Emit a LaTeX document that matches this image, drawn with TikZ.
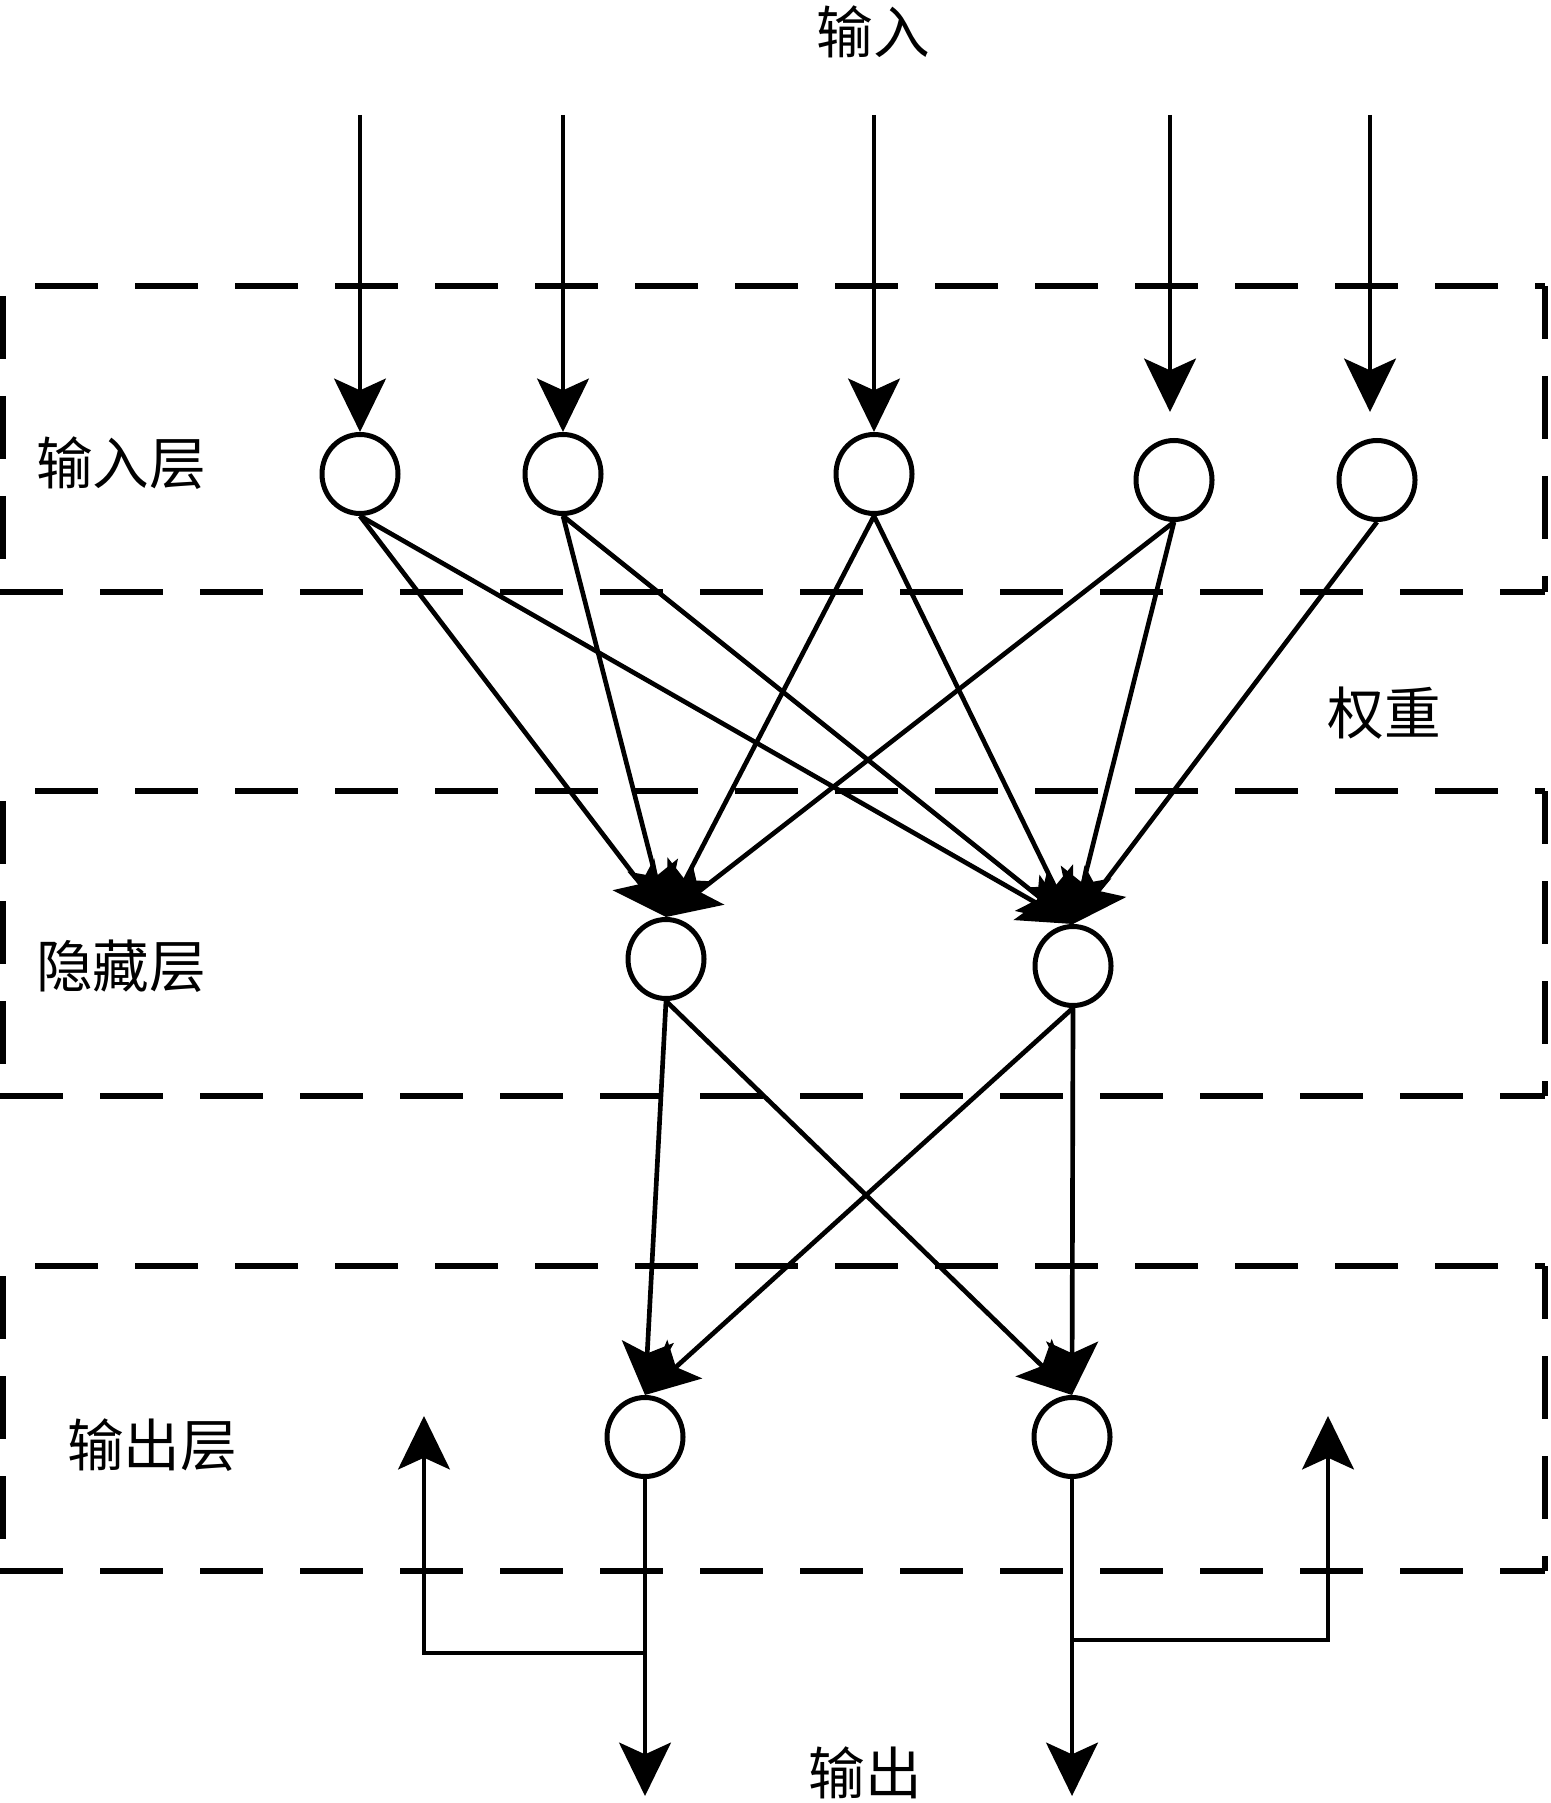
\documentclass[tikz,border=0pt]{standalone}
\usepackage{fontspec}
\newfontfamily\cjk{Noto Sans CJK SC}
\usetikzlibrary{arrows.meta,shapes.geometric}
\begin{document}
\begin{tikzpicture}[x=0.3pt,y=-0.3pt,
  neuron/.style={ellipse,draw,line width=1.5pt,minimum width=22.8pt,minimum height=23.7pt,inner sep=0pt},
  conn/.style={line width=1.4pt,-{Stealth[length=16pt,width=15.5pt,inset=3.5pt]}},
  wire/.style={line width=1.4pt},
  layer/.style={line width=1.7pt,dash pattern=on 18.9pt off 11.1pt},
  lbl/.style={font=\cjk\fontsize{17}{20}\selectfont,inner sep=0pt}]
\useasboundingbox (0,0) rectangle (1550,1803);

% layer boxes
\foreach \t/\b in {286/592, 791/1096, 1266/1571}{
  \draw[layer,dash phase=20.4pt] (3,\t) -- (1545,\t);
  \draw[layer] (0,\b) -- (1545,\b);
  \draw[layer,dash phase=27pt] (3,\t) -- (3,\b);
  \draw[layer,dash phase=3pt] (1545,\t) -- (1545,\b);
}

% labels
\node[lbl] (tin) at (873,32) {输入};
\node[lbl] (tinl) at (121,463) {输入层};
\node[lbl] (thid) at (121,966) {隐藏层};
\node[lbl] (tout) at (152,1445) {输出层};
\node[lbl] (tw) at (1384,713) {权重};
\node[lbl] (tob) at (865,1773) {输出};

% neurons
\node[neuron] (in1) at (360,474) {};
\node[neuron] (in2) at (563,474) {};
\node[neuron] (in3) at (874,474) {};
\node[neuron] (in4) at (1174,480) {};
\node[neuron] (in5) at (1377,480) {};
\node[neuron] (hid1) at (666,959) {};
\node[neuron] (hid2) at (1073,966) {};
\node[neuron] (out1) at (645,1437) {};
\node[neuron] (out2) at (1072,1437) {};

% input arrows
\coordinate (s1) at (360,115);
\coordinate (s2) at (563,115);
\coordinate (s3) at (874,115);
\coordinate (s4) at (1170,115);
\coordinate (s5) at (1370,115);
\coordinate (e4) at (1170,412);
\coordinate (e5) at (1370,412);
\draw[conn] (s1) -- (in1.north);
\draw[conn] (s2) -- (in2.north);
\draw[conn] (s3) -- (in3.north);
\draw[conn] (s4) -- (e4);
\draw[conn] (s5) -- (e5);

% input -> hidden
\foreach \i in {1,2,3,4}{
  \draw[conn] (in\i.south) -- (hid1.north);
}
\foreach \i in {1,2,3,4,5}{
  \draw[conn] (in\i.south) -- (hid2.north);
}

% hidden -> output
\draw[conn] (hid1.south) -- (out1.north);
\draw[conn] (hid1.south) -- (out2.north);
\draw[conn] (hid2.south) -- (out1.north);
\draw[conn] (hid2.south) -- (out2.north);

% outputs
\coordinate (o1) at (645,1796);
\coordinate (o2) at (1072,1796);
\draw[conn] (out1.south) -- (o1);
\draw[conn] (out2.south) -- (o2);

% feedback branches
\coordinate (j1) at (645,1653);
\coordinate (f1) at (424,1416);
\coordinate (j2) at (1072,1640);
\coordinate (f2) at (1328,1416);
\draw[conn] (j1) -| (f1);
\draw[conn] (j2) -| (f2);
\end{tikzpicture}
\end{document}
